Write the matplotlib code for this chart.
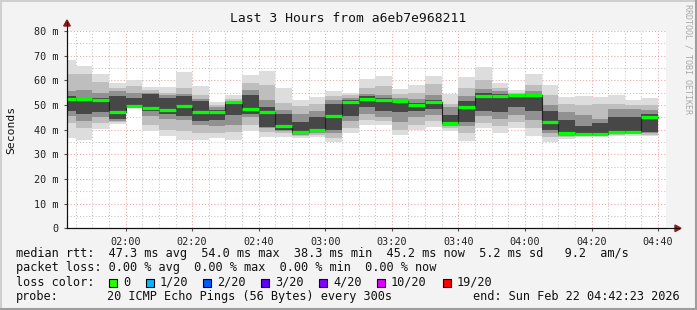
import matplotlib
matplotlib.use("Agg")
import matplotlib.pyplot as plt
import matplotlib.dates as mdates
from matplotlib.lines import Line2D
from matplotlib.patches import Rectangle, Polygon
import numpy as np
import pandas as pd

# bin start times (5 minute steps), first bin is clipped by the graph start
bin_start = pd.date_range("2026-02-22 01:40", periods=36, freq="5min")

median = [52.3, 52.3, 52.0, 47.3, 49.7, 48.9, 48.0, 49.7, 47.3, 47.0, 51.1, 48.4,
          47.0, 41.4, 38.9, 39.7, 45.5, 51.1, 52.6, 52.0, 51.5, 50.0, 51.1, 42.8,
          49.1, 53.6, 53.6, 54.0, 53.9, 43.2, 38.6, 38.3, 38.4, 39.0, 39.0, 45.2]

# smoke bands, outermost (ping 1/20) to innermost
band1_lo = [36.5, 35.8, 40.2, 42.3, 49.5, 39.3, 37.4, 35.8, 35.9, 36.6, 36.0, 39.5,
            36.9, 37.0, 36.8, 37.2, 35.1, 38.5, 41.9, 41.9, 37.8, 39.8, 41.0, 39.5,
            35.5, 40.7, 38.5, 40.6, 37.4, 35.1, 36.1, 36.9, 36.9, 37.3, 37.6, 37.4]
band1_hi = [68.2, 66.0, 62.6, 59.0, 60.1, 57.3, 57.2, 63.5, 57.8, 51.3, 54.0, 62.3,
            63.8, 57.0, 52.2, 53.2, 55.8, 55.0, 60.5, 61.8, 56.4, 58.1, 61.8, 54.5,
            61.3, 65.4, 59.1, 56.1, 62.6, 58.1, 53.4, 53.6, 53.4, 54.1, 52.0, 52.7]
band2_lo = [42.5, 40.5, 42.5, 43.0, 49.6, 42.0, 40.0, 39.5, 38.5, 38.5, 39.0, 42.0,
            39.0, 38.5, 37.5, 38.0, 36.5, 40.5, 44.0, 43.5, 40.0, 42.0, 43.5, 40.5,
            38.5, 42.5, 41.5, 43.0, 40.5, 37.0, 37.0, 37.5, 37.5, 38.0, 38.2, 38.0]
band2_hi = [62.5, 62.5, 59.5, 57.0, 57.5, 56.0, 55.0, 57.0, 54.0, 50.0, 52.5, 59.0,
            58.0, 51.0, 49.5, 50.5, 53.5, 54.0, 57.0, 57.5, 54.5, 55.0, 58.5, 50.5,
            57.0, 60.0, 57.0, 55.0, 58.0, 54.0, 50.5, 50.0, 50.5, 50.5, 50.0, 50.0]
band3_lo = [45.5, 43.5, 45.0, 43.5, 49.6, 45.5, 44.5, 44.0, 42.0, 41.5, 42.0, 45.0,
            40.5, 39.5, 38.0, 38.5, 38.5, 43.5, 46.5, 45.0, 43.0, 45.0, 46.0, 41.5,
            41.5, 45.5, 44.5, 46.0, 44.0, 38.5, 37.5, 37.8, 37.8, 38.5, 38.5, 38.5]
band3_hi = [55.5, 56.0, 55.0, 55.5, 55.0, 55.0, 54.0, 54.5, 52.5, 49.0, 51.5, 56.0,
            52.0, 48.0, 46.5, 47.5, 52.0, 53.0, 54.5, 54.0, 53.0, 52.5, 54.0, 49.0,
            53.5, 56.5, 55.5, 54.5, 55.5, 50.0, 47.0, 46.0, 44.5, 48.5, 48.5, 48.0]
band4_lo = [47.5, 46.5, 47.0, 44.5, 49.6, 47.5, 46.5, 45.5, 43.5, 44.0, 46.0, 46.5,
            41.0, 40.0, 38.3, 39.0, 40.0, 45.5, 49.0, 47.5, 47.0, 47.5, 48.5, 42.3,
            43.0, 47.5, 47.0, 49.0, 47.5, 40.0, 38.0, 38.0, 38.0, 38.8, 38.8, 39.0]
band4_hi = [53.5, 53.0, 53.0, 53.5, 53.0, 54.5, 53.0, 53.5, 51.5, 48.0, 51.2, 54.0,
            49.0, 46.5, 43.0, 45.0, 50.5, 52.0, 53.5, 53.0, 52.0, 51.0, 52.0, 46.0,
            51.5, 55.0, 54.5, 54.2, 54.5, 47.5, 44.0, 41.5, 42.5, 45.0, 45.0, 46.5]

band_colors = ["#dddddd", "#bebebe", "#919191", "#474747"]

loss_labels = ["0", "1/20", "2/20", "3/20", "4/20", "10/20", "19/20"]
loss_colors = ["#26ff00", "#00b8ff", "#0059ff", "#5e00ff", "#7e00ff", "#dd00ff", "#ff0000"]

W, H = 697, 310
mono = "DejaVu Sans Mono"

fig = plt.figure(figsize=(W / 100, H / 100), dpi=100, facecolor="#f3f3f3")


def fx(px):
    return px / W


def fy(py):
    return 1 - py / H


x0, x1 = 67, 666
y0, y1 = 228.3, 31
ax = fig.add_axes([fx(x0), fy(y0), fx(x1 - x0), (y0 - y1) / H])
ax.set_facecolor("white")

t_start = mdates.date2num(pd.Timestamp("2026-02-22 01:42:23").to_pydatetime())
t_end = mdates.date2num(pd.Timestamp("2026-02-22 04:42:23").to_pydatetime())
xs = mdates.date2num(bin_start.to_pydatetime())
step = 5 / 1440

# grid
for m in range(0, 81, 5):
    if m % 10 == 0:
        ax.axhline(m, color="#eba3a3", lw=0.75, ls=(0, (1, 2)), zorder=0)
    else:
        ax.axhline(m, color="#c4c4c4", lw=0.75, ls=(0, (1, 2)), zorder=0)
for k in range(len(xs) + 1):
    t = xs[0] + k * step
    tt = mdates.num2date(t)
    col = "#eba3a3" if tt.minute % 20 == 0 else "#c4c4c4"
    if t > t_start:
        ax.axvline(t, color=col, lw=0.75, ls=(0, (1, 2)), zorder=0)

# smoke
bands = [(band1_lo, band1_hi), (band2_lo, band2_hi), (band3_lo, band3_hi), (band4_lo, band4_hi)]
for (lo, hi), c in zip(bands, band_colors):
    lo = np.array(lo)
    hi = np.array(hi)
    ax.bar(xs, hi - lo, bottom=lo, width=step, align="edge", color=c, lw=0, zorder=2)

# median line
med = np.array(median)
ax.step(np.append(xs, xs[-1] + step), np.append(med, med[-1]), where="post",
        color="#202020", lw=0.8, zorder=3)
ax.hlines(med, xs, xs + step, color="#00ff00", lw=2.3, zorder=4)

ax.set_xlim(t_start, t_end)
ax.set_ylim(0, 80)

ax.set_yticks(range(0, 81, 10))
ax.set_yticklabels(["0"] + [f"{v} m" for v in range(10, 81, 10)])
ax.xaxis.set_major_locator(mdates.MinuteLocator(byminute=[0, 20, 40]))
ax.xaxis.set_major_formatter(mdates.DateFormatter("%H:%M"))
ax.tick_params(axis="both", length=2, width=0.8, color="#555555", labelsize=7.3,
               labelcolor="#222222", pad=4)
for lab in ax.get_xticklabels() + ax.get_yticklabels():
    lab.set_family(mono)

for s in ["top", "right"]:
    ax.spines[s].set_visible(False)
for s in ["left", "bottom"]:
    ax.spines[s].set_color("#101010")
    ax.spines[s].set_linewidth(0.8)

# axis arrows
fig.add_artist(Line2D([fx(x0), fx(679)], [fy(y0), fy(y0)], color="#101010", lw=0.8))
fig.add_artist(Line2D([fx(x0), fx(x0)], [fy(y0), fy(22)], color="#101010", lw=0.8))
fig.add_artist(Polygon([[fx(675), fy(225)], [fx(681), fy(228.3)], [fx(675), fy(231.6)]],
                       closed=True, color="#8b1a1a", transform=fig.transFigure))
fig.add_artist(Polygon([[fx(63.7), fy(26)], [fx(67), fy(20)], [fx(70.3), fy(26)]],
                       closed=True, color="#8b1a1a", transform=fig.transFigure))

# texts
fig.text(fx(348), fy(18), "Last 3 Hours from a6eb7e968211", ha="center", va="center",
         family=mono, fontsize=9.4, color="#111111")
fig.text(fx(11), fy(130), "Seconds", rotation=90, ha="center", va="center",
         family=mono, fontsize=8.2, color="#111111")
fig.text(fx(688), fy(4), "RRDTOOL / TOBI OETIKER", rotation=270, ha="center", va="top",
         family=mono, fontsize=6.0, color="#a8a8a8")

fs = 8.6
fig.text(fx(16), fy(254), "median rtt:  47.3 ms avg  54.0 ms max  38.3 ms min  "
         "45.2 ms now  5.2 ms sd   9.2  am/s", ha="left", va="center",
         family=mono, fontsize=fs, color="#111111")
fig.text(fx(16), fy(268), "packet loss: 0.00 % avg  0.00 % max  0.00 % min  0.00 % now",
         ha="left", va="center", family=mono, fontsize=fs, color="#111111")
fig.text(fx(16), fy(282), "loss color:", ha="left", va="center", family=mono,
         fontsize=fs, color="#111111")
sq_x = [109, 145.7, 203, 261, 319, 376.7, 442.7]
for sx, lab, c in zip(sq_x, loss_labels, loss_colors):
    fig.add_artist(Rectangle((fx(sx), fy(286.5)), fx(8), 8 / H, facecolor=c,
                             edgecolor="black", lw=0.8, transform=fig.transFigure))
    fig.text(fx(sx + 14), fy(282), lab, ha="left", va="center", family=mono,
             fontsize=fs, color="#111111")
fig.text(fx(16), fy(296.5), "probe:", ha="left", va="center", family=mono,
         fontsize=fs, color="#111111")
fig.text(fx(107), fy(296.5), "20 ICMP Echo Pings (56 Bytes) every 300s", ha="left",
         va="center", family=mono, fontsize=fs, color="#111111")
fig.text(fx(680), fy(296.5), "end: Sun Feb 22 04:42:23 2026", ha="right", va="center",
         family=mono, fontsize=fs, color="#111111")

# frame shading
fig.add_artist(Line2D([0, 1], [fy(0.5), fy(0.5)], color="#cfcfcf", lw=1.5))
fig.add_artist(Line2D([fx(0.5), fx(0.5)], [0, 1], color="#cfcfcf", lw=1.5))
fig.add_artist(Line2D([0, 1], [fy(309), fy(309)], color="#9e9e9e", lw=1.5))
fig.add_artist(Line2D([fx(696), fx(696)], [0, 1], color="#9e9e9e", lw=1.5))

fig.savefig("out.png", dpi=100, facecolor=fig.get_facecolor())
